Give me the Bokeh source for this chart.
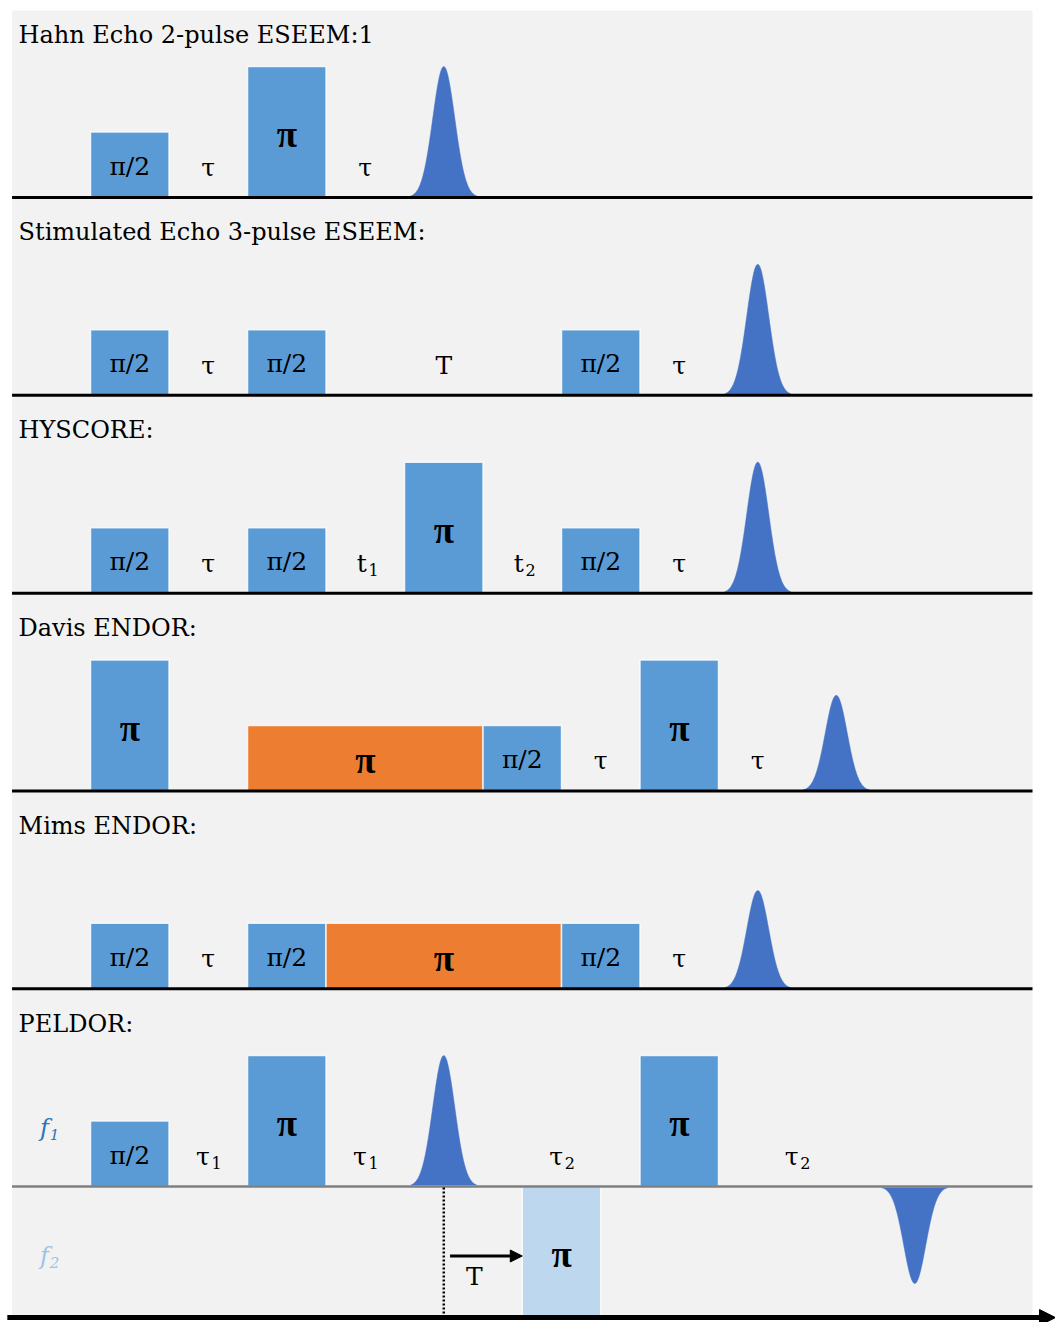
import numpy as np
from bokeh.plotting import figure
from bokeh.models import ColumnDataSource, Range1d, Arrow, NormalHead
from bokeh.core.properties import value
from bokeh.embed import file_html
from bokeh.resources import INLINE

# ---------------------------------------------------------------------------
# Pulse sequences (time in units of one short pulse length, amplitude relative
# to a pi pulse).  Pulse tuple: (start, length, amplitude, kind, label)
# ---------------------------------------------------------------------------
TITLES = [
    "Hahn Echo 2-pulse ESEEM:1",
    "Stimulated Echo 3-pulse ESEEM:",
    "HYSCORE:",
    "Davis ENDOR:",
    "Mims ENDOR:",
    "PELDOR:",
]

HAHN_PULSES = [(0, 1, 0.5, "mw", "π/2"), (2, 1, 1.0, "mw", "π")]
STIM_PULSES = [(0, 1, 0.5, "mw", "π/2"), (2, 1, 0.5, "mw", "π/2"), (6, 1, 0.5, "mw", "π/2")]
HYSCORE_PULSES = [(0, 1, 0.5, "mw", "π/2"), (2, 1, 0.5, "mw", "π/2"),
                  (4, 1, 1.0, "mw", "π"), (6, 1, 0.5, "mw", "π/2")]
DAVIS_PULSES = [(0, 1, 1.0, "mw", "π"), (2, 3, 0.5, "rf", "π"),
                (5, 1, 0.5, "mw", "π/2"), (7, 1, 1.0, "mw", "π")]
MIMS_PULSES = [(0, 1, 0.5, "mw", "π/2"), (2, 1, 0.5, "mw", "π/2"),
               (3, 3, 0.5, "rf", "π"), (6, 1, 0.5, "mw", "π/2")]
PELDOR_PULSES = [(0, 1, 0.5, "mw", "π/2"), (2, 1, 1.0, "mw", "π"),
                 (7, 1, 1.0, "mw", "π"), (5.5, 1, -1.0, "pump", "π")]

# Echoes: (centre, amplitude); negative = inverted (refocused) echo
HAHN_ECHOES = [(4.5, 1.0)]
STIM_ECHOES = [(8.5, 1.0)]
HYSCORE_ECHOES = [(8.5, 1.0)]
DAVIS_ECHOES = [(9.5, 0.73)]
MIMS_ECHOES = [(8.5, 0.75)]
PELDOR_ECHOES = [(4.5, 1.0), (10.5, -0.74)]

# Delay labels: (centre, symbol, subscript)
HAHN_DELAYS = [(1.5, "τ", ""), (3.5, "τ", "")]
STIM_DELAYS = [(1.5, "τ", ""), (4.5, "T", ""), (7.5, "τ", "")]
HYSCORE_DELAYS = [(1.5, "τ", ""), (3.5, "t", "1"), (5.5, "t", "2"), (7.5, "τ", "")]
DAVIS_DELAYS = [(6.5, "τ", ""), (8.5, "τ", "")]
MIMS_DELAYS = [(1.5, "τ", ""), (7.5, "τ", "")]
PELDOR_DELAYS = [(1.5, "τ", "1"), (3.5, "τ", "1"), (6.0, "τ", "2"), (9.0, "τ", "2")]

SEQ_PULSES = [HAHN_PULSES, STIM_PULSES, HYSCORE_PULSES, DAVIS_PULSES, MIMS_PULSES, PELDOR_PULSES]
SEQ_ECHOES = [HAHN_ECHOES, STIM_ECHOES, HYSCORE_ECHOES, DAVIS_ECHOES, MIMS_ECHOES, PELDOR_ECHOES]
SEQ_DELAYS = [HAHN_DELAYS, STIM_DELAYS, HYSCORE_DELAYS, DAVIS_DELAYS, MIMS_DELAYS, PELDOR_DELAYS]

# PELDOR channel labels and the pump-delay marker
CHANNELS = [("f", "1", 0.45, "#2E75B6"), ("f", "2", -0.53, "#9DC3E6")]
PELDOR_REF_ECHO = 4.5
PELDOR_PUMP_START = 5.5

# ---------------------------------------------------------------------------
# Styling / layout
# ---------------------------------------------------------------------------
PULSE_COLORS = {"mw": "#5B9BD5", "rf": "#ED7D31", "pump": "#BDD7EE"}
ECHO_COLOR = "#4472C4"
BG_COLOR = "#F2F2F2"
FONT = "DejaVu Serif"
PI_FONT = "Liberation Serif"

W, H = 1055, 1322
X_START, X_END = -1.147, 12.293
PX_PER_Y = 131.0
Y_TOP = 10.054
Y_BOTTOM = Y_TOP - H / PX_PER_Y
ROW_STEP = 1.51
N = len(TITLES)
BASELINES = [1.0 + (N - 1 - k) * ROW_STEP for k in range(N)]
BG_LEFT, BG_RIGHT, BG_TOP, BG_BOTTOM = -1.0, 12.0, 9.978, 0.0
TITLE_X = -0.917
TITLE_DY = 1.244
ECHO_SIGMA = 0.14

p = figure(width=W, height=H, x_range=Range1d(X_START, X_END),
           y_range=Range1d(Y_BOTTOM, Y_TOP), output_backend="svg",
           toolbar_location=None, min_border=0)
p.axis.visible = False
p.grid.visible = False
p.outline_line_color = None
p.background_fill_color = "white"
p.border_fill_color = "white"

# panel background
p.quad(left=[BG_LEFT], right=[BG_RIGHT], bottom=[BG_BOTTOM], top=[BG_TOP],
       fill_color=BG_COLOR, line_color=None)

# pulses
pl, pr, pb, pt, pc = [], [], [], [], []
fx, fy, ft = [], [], []      # fractional pulse labels (π/2)
px_, py_, pt_ = [], [], []   # full π labels
for base, pulses in zip(BASELINES, SEQ_PULSES):
    for start, length, amp, kind, label in pulses:
        pl.append(start)
        pr.append(start + length)
        pb.append(base + min(amp, 0))
        pt.append(base + max(amp, 0))
        pc.append(PULSE_COLORS[kind])
        centre = start + length / 2
        if label == "π":
            px_.append(centre)
            py_.append(base + amp / 2 - 0.02)
            pt_.append(label)
        else:
            fx.append(centre)
            fy.append(base + amp * 0.48)
            ft.append(label)
p.quad(source=ColumnDataSource(dict(left=pl, right=pr, bottom=pb, top=pt, color=pc)),
       left="left", right="right", bottom="bottom", top="top",
       fill_color="color", line_color="white", line_width=1.5, line_alpha=0.8)
p.text(x=fx, y=fy, text=ft, text_font=value(FONT), text_font_size="25px",
       text_align="center", text_baseline="middle", text_color="black")
p.text(x=px_, y=py_, text=pt_, text_font=value(PI_FONT), text_font_style="bold",
       text_font_size="37px", text_align="center", text_baseline="alphabetic",
       text_color="black")

# echoes (Gaussian envelopes)
shape = np.linspace(-3 * ECHO_SIGMA, 3 * ECHO_SIGMA, 121)
exs, eys = [], []
for base, echoes in zip(BASELINES, SEQ_ECHOES):
    for centre, amp in echoes:
        env = amp * np.exp(-shape ** 2 / (2 * ECHO_SIGMA ** 2))
        exs.append(list(centre + shape))
        eys.append(list(base + env))
p.patches(xs=exs, ys=eys, fill_color=ECHO_COLOR, line_color=ECHO_COLOR, line_width=0.5)

# delay labels with optional subscripts
mx, my, mt, sx, sy, st = [], [], [], [], [], []
cx, cy, ct = [], [], []
for base, delays in zip(BASELINES, SEQ_DELAYS):
    for centre, sym, sub in delays:
        if sub:
            mx.append(centre + 0.02)
            my.append(base + 0.23)
            mt.append(sym)
            sx.append(centre + 0.04)
            sy.append(base + 0.18)
            st.append(sub)
        else:
            cx.append(centre)
            cy.append(base + 0.23)
            ct.append(sym)
p.text(x=cx, y=cy, text=ct, text_font=value(FONT), text_font_size="25px",
       text_align="center", text_baseline="middle", text_color="black")
p.text(x=mx, y=my, text=mt, text_font=value(FONT), text_font_size="25px",
       text_align="right", text_baseline="middle", text_color="black")
p.text(x=sx, y=sy, text=st, text_font=value(FONT), text_font_size="16px",
       text_align="left", text_baseline="middle", text_color="black")

# titles
p.text(x=[TITLE_X] * N, y=[b + TITLE_DY for b in BASELINES], text=TITLES,
       text_font=value(FONT), text_font_size="24px", text_align="left",
       text_baseline="middle", text_color="black")

# PELDOR channel labels
peldor_base = BASELINES[-1]
for sym, sub, dy, col in CHANNELS:
    p.text(x=[-0.53], y=[peldor_base + dy], text=[sym], text_font=value(FONT),
           text_font_style="italic", text_font_size="24px", text_align="right",
           text_baseline="middle", text_color=col)
    p.text(x=[-0.52], y=[peldor_base + dy - 0.05], text=[sub], text_font=value(FONT),
           text_font_style="italic", text_font_size="15px", text_align="left",
           text_baseline="middle", text_color=col)

# baselines
for base in BASELINES[:-1]:
    p.line(x=[BG_LEFT, BG_RIGHT], y=[base, base], line_color="black", line_width=3)
p.line(x=[BG_LEFT, BG_RIGHT], y=[peldor_base, peldor_base], line_color="#7F7F7F", line_width=2.5)

# dotted marker at the observer echo and the variable pump delay T
p.line(x=[PELDOR_REF_ECHO, PELDOR_REF_ECHO], y=[BG_BOTTOM, peldor_base],
       line_color="black", line_width=2.5, line_dash="2 2")
p.add_layout(Arrow(end=NormalHead(size=12, fill_color="black", line_color="black"),
                   x_start=PELDOR_REF_ECHO + 0.08, y_start=peldor_base - 0.53,
                   x_end=PELDOR_PUMP_START, y_end=peldor_base - 0.53,
                   line_color="black", line_width=3))
p.text(x=[PELDOR_REF_ECHO + 0.39], y=[peldor_base - 0.69], text=["T"],
       text_font=value(FONT), text_font_size="25px", text_align="center",
       text_baseline="middle", text_color="black")

# time axis
p.add_layout(Arrow(end=NormalHead(size=16, fill_color="black", line_color="black"),
                   x_start=-1.06, y_start=BG_BOTTOM, x_end=X_END, y_end=BG_BOTTOM,
                   line_color="black", line_width=5))

open("out.html", "w").write(file_html(p, INLINE))
